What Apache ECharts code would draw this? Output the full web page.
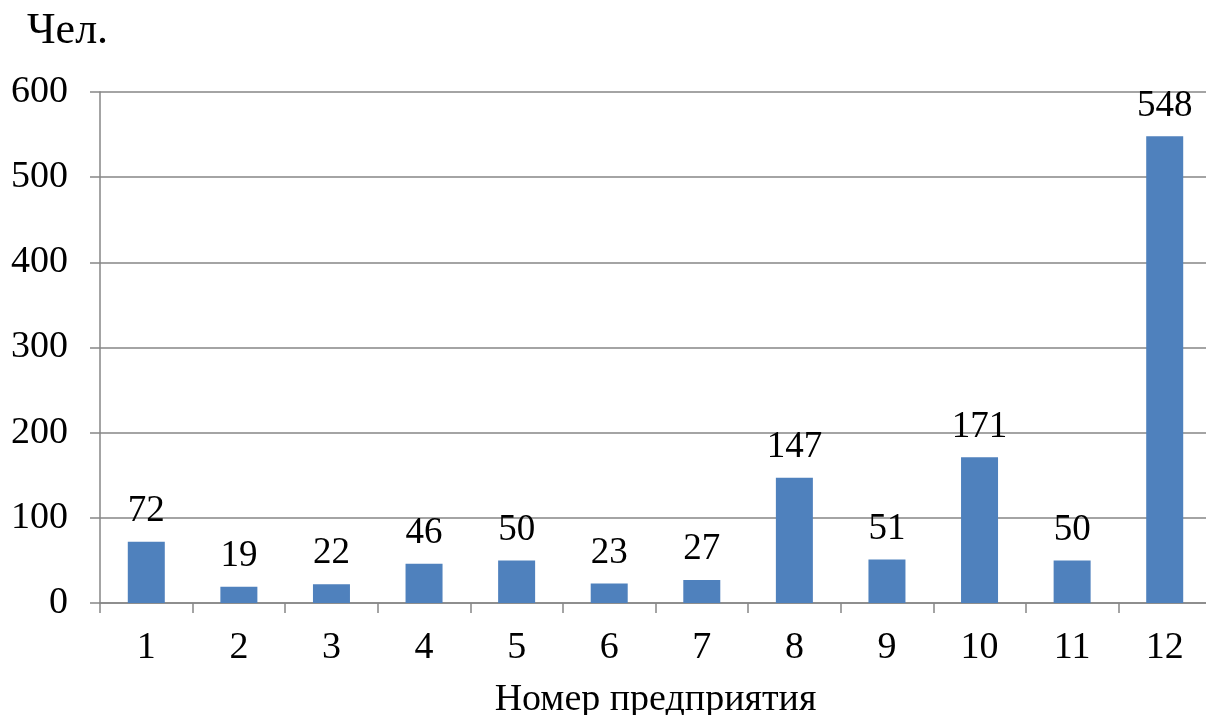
<!DOCTYPE html>
<html>
<head>
<meta charset="utf-8">
<script src="https://cdn.jsdelivr.net/npm/echarts@6/dist/echarts.min.js"></script>
<style>
  html, body { margin: 0; padding: 0; background: #fff; }
  #chart { width: 1206px; height: 715px; }
</style>
</head>
<body>
<div id="chart"></div>
<script>
// Численность персонала по предприятиям
const categories = ["1", "2", "3", "4", "5", "6", "7", "8", "9", "10", "11", "12"];
const values = [72, 19, 22, 46, 50, 23, 27, 147, 51, 171, 50, 548];

const font = "'Liberation Serif', 'Times New Roman', serif";
const axisGrey = "#868686";

const chart = echarts.init(document.getElementById("chart"));

const option = {
  backgroundColor: "#fff",
  animation: false,
  title: {
    text: "Чел.",
    left: 22,
    top: 4,
    textStyle: { fontFamily: font, fontSize: 44, fontWeight: "normal", color: "#000" },
  },
  grid: {
    left: 100,
    top: 92,
    bottom: 112,
    width: 1111,
    outerBoundsMode: "none",
    containLabel: false,
  },
  xAxis: {
    type: "category",
    data: categories,
    name: "Номер предприятия",
    nameLocation: "middle",
    nameGap: 78,
    nameTextStyle: { fontFamily: font, fontSize: 38, color: "#000" },
    axisLine: { lineStyle: { color: axisGrey, width: 1.5 } },
    axisTick: { show: true, length: 10, lineStyle: { color: axisGrey, width: 1.5 } },
    axisLabel: { fontFamily: font, fontSize: 38, color: "#000", margin: 26 },
  },
  yAxis: {
    type: "value",
    min: 0,
    max: 600,
    interval: 100,
    axisLine: { show: true, lineStyle: { color: axisGrey, width: 1.5 } },
    axisTick: { show: true, length: 10, lineStyle: { color: axisGrey, width: 1.5 } },
    axisLabel: { fontFamily: font, fontSize: 38, color: "#000", margin: 32 },
    splitLine: { lineStyle: { color: axisGrey, width: 1.5 } },
  },
  series: [
    {
      type: "bar",
      data: values,
      barWidth: 37,
      itemStyle: { color: "#4F81BD" },
      label: {
        show: true,
        position: "top",
        distance: 12,
        fontFamily: font,
        fontSize: 37,
        color: "#000",
      },
    },
  ],
};

chart.setOption(option);
</script>
</body>
</html>
